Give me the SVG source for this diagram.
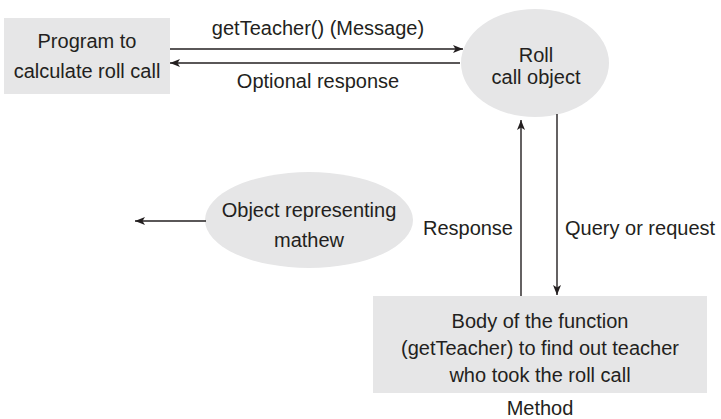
<svg xmlns="http://www.w3.org/2000/svg" width="721" height="419" viewBox="0 0 721 419">
<defs>
<style>
.node{fill:#e6e6e7;stroke:none}
.t{font-family:"Liberation Sans",Arial,sans-serif;font-size:20px;fill:#231f20;text-anchor:middle}
.c{stroke:#231f20;stroke-width:1.4;fill:none;marker-end:url(#ah)}
</style>
<marker id="ah" viewBox="0 0 10 8" refX="10" refY="4" markerWidth="10" markerHeight="8" markerUnits="userSpaceOnUse" orient="auto">
<path d="M0,0 L10,4 L0,8 L2.5,4 Z" fill="#231f20"/>
</marker>
</defs>
<rect width="721" height="419" fill="#fff"/>
<g id="program">
<rect class="node" x="4" y="18" width="166" height="76"/>
<text class="t" x="87" y="48">Program to</text>
<text class="t" x="87" y="78">calculate roll call</text>
</g>
<g id="rollcall">
<ellipse class="node" cx="535" cy="63" rx="74" ry="54"/>
<text class="t" x="536" y="62">Roll</text>
<text class="t" x="536" y="84">call object</text>
</g>
<g id="mathew">
<ellipse class="node" cx="309" cy="220" rx="104" ry="48"/>
<text class="t" x="309" y="217">Object representing</text>
<text class="t" x="309" y="247">mathew</text>
</g>
<g id="method">
<rect class="node" x="373" y="296" width="334" height="97"/>
<text class="t" x="540" y="328">Body of the function</text>
<text class="t" x="540" y="355">(getTeacher) to find out teacher</text>
<text class="t" x="540" y="382">who took the roll call</text>
<text class="t" x="540" y="415">Method</text>
</g>
<g id="connectors">
<line class="c" x1="170" y1="49" x2="463" y2="49"/>
<line class="c" x1="460" y1="63" x2="170" y2="63"/>
<line class="c" x1="521" y1="296" x2="521" y2="120"/>
<line class="c" x1="557" y1="114" x2="557" y2="295"/>
<line class="c" x1="206" y1="221" x2="135" y2="221"/>
<text class="t" x="318" y="35">getTeacher() (Message)</text>
<text class="t" x="318" y="88">Optional response</text>
<text class="t" x="513" y="235" style="text-anchor:end">Response</text>
<text class="t" x="565" y="235" style="text-anchor:start">Query or request</text>
</g>
</svg>
